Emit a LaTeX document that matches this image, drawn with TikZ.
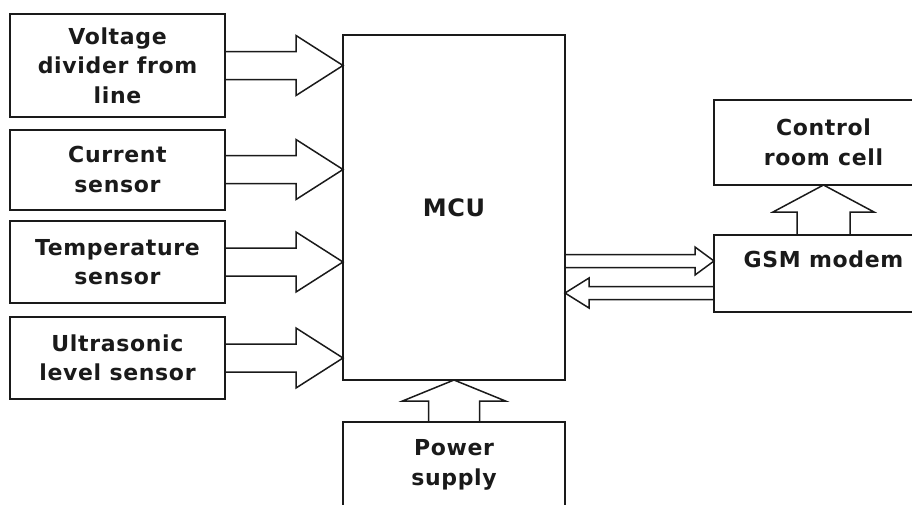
\documentclass[tikz,border=0pt]{standalone}
\usepackage{fontspec}
\setmainfont[LetterSpace=3]{DejaVu Sans}
\usetikzlibrary{calc}
\definecolor{ink}{HTML}{1A1A1A}
\newcommand{\boxfont}{\fontsize{22}{29.5}\selectfont}
\newcommand{\bigfont}{\fontsize{24}{30}\selectfont}
\tikzset{
  unit/.style={draw=ink, line width=2pt, align=center, inner sep=0pt, outer sep=0pt},
  blk/.style={draw=ink, line width=1.5pt, line join=miter},
}
% hollow block arrow: tail, tip, half shaft, half head, head length
\newcommand{\blockarrow}[5]{%
  \coordinate (ba-s) at (#1);
  \coordinate (ba-t) at (#2);
  \coordinate (ba-h) at ($(ba-t)!#5pt!(ba-s)$);
  \draw[blk] ($(ba-s)!#3pt!90:(ba-t)$) -- ($(ba-h)!#3pt!90:(ba-t)$)
    -- ($(ba-h)!#4pt!90:(ba-t)$) -- (ba-t)
    -- ($(ba-h)!#4pt!-90:(ba-t)$) -- ($(ba-h)!#3pt!-90:(ba-t)$)
    -- ($(ba-s)!#3pt!-90:(ba-t)$);
}

\begin{document}
\begin{tikzpicture}[x=1pt, y=-1pt, font=\boxfont\bfseries, text=ink]
  \useasboundingbox (0,0) rectangle (912,504);
  % sensors
  \foreach \n/\y/\h/\lab in {
     1/65.5/103/{Voltage\\divider from\\line},
     2/169.5/80/{Current\\sensor},
     3/262/82/{Temperature\\sensor},
     4/358/82/{Ultrasonic\\level sensor}} {
    \node[unit, minimum width=215pt, minimum height=\h pt] (s\n) at (117.5,\y) {\lab};
  }
  \node[unit, minimum width=222pt, minimum height=345pt, font=\bigfont\bfseries]
        (mcu) at (454,207.5) {MCU};
  \node[unit, minimum width=219pt, minimum height=85pt] (ctrl) at (823.5,142.5) {Control\\room cell};
  \node[unit, minimum width=219pt, minimum height=77pt, text depth=28pt]
        (gsm) at (823.5,273.5) {GSM modem};
  \node[unit, minimum width=222pt, minimum height=86pt] (pwr) at (454,465) {Power\\supply};

  \foreach \n in {1,...,4}
    \blockarrow{s\n.east}{mcu.west |- s\n.east}{14}{30}{47}
  \coordinate (tx) at ($(gsm.west)+(0,-12.5)$);
  \coordinate (rx) at ($(gsm.west)+(0,19.5)$);
  \blockarrow{mcu.east |- tx}{tx}{6.5}{14}{19}
  \blockarrow{rx}{mcu.east |- rx}{6.5}{15}{24}
  \blockarrow{gsm.north}{ctrl.south}{26.5}{50.5}{27}
  \blockarrow{pwr.north}{mcu.south}{25.5}{51.5}{21}
\end{tikzpicture}
\end{document}
